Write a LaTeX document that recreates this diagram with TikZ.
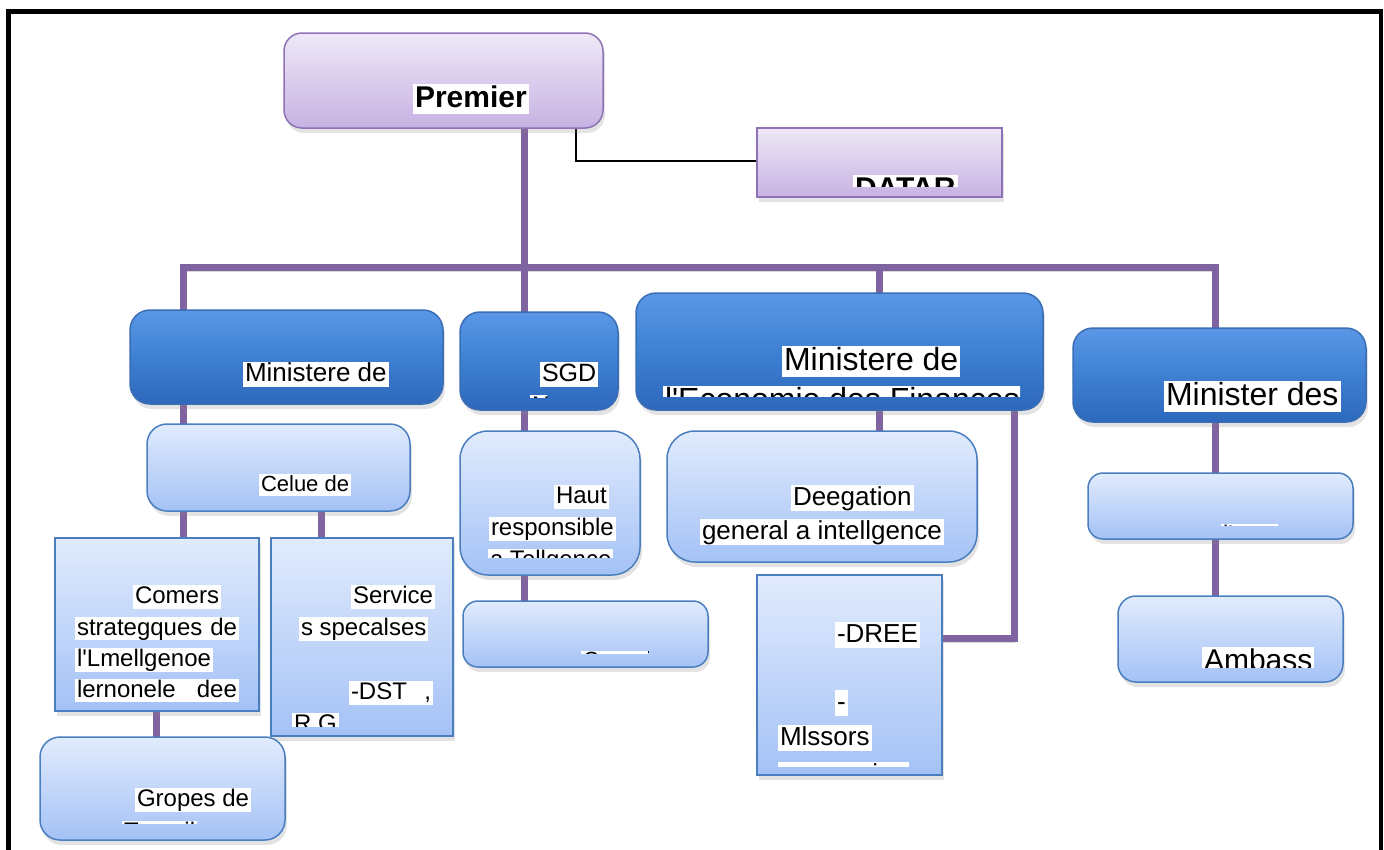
\documentclass[tikz,border=0pt]{standalone}
\usepackage{fontspec}
\setmainfont{Liberation Sans}
\usetikzlibrary{shadows,backgrounds}
\definecolor{purp}{HTML}{8064A2}
\definecolor{ptop}{HTML}{EEE8F7}
\definecolor{pbot}{HTML}{C7B2E3}
\definecolor{pborder}{HTML}{8E72B5}
\definecolor{dtop}{HTML}{5A98E6}
\definecolor{dmid}{HTML}{3E80D2}
\definecolor{dbot}{HTML}{2D68BC}
\definecolor{dborder}{HTML}{3A6DB4}
\definecolor{ltop}{HTML}{E1EBFD}
\definecolor{lbot}{HTML}{A4C2F6}
\definecolor{lborder}{HTML}{4A7EBE}
\newcommand\TL[5][]{\node[tl,font=\fontsize{#3}{#3}\selectfont#1] (#2) at (#4) {\rule[-0.2em]{0pt}{0.95em}#5};}
\newcommand\q{\textquotesingle}
\begin{document}
\begin{tikzpicture}[x=1pt,y=-1pt,
  box/.style={inner sep=0pt, outer sep=0pt, anchor=north west, line width=1.5pt,
    drop shadow={shadow xshift=2pt, shadow yshift=-5pt, opacity=0.22}},
  purpbox/.style={box, rounded corners=18pt, top color=ptop, bottom color=pbot, draw=pborder},
  purprect/.style={box, top color=ptop, bottom color=pbot, draw=pborder},
  darkbox/.style={box, rounded corners=20pt, top color=dtop, bottom color=dbot, middle color=dmid, draw=dborder},
  lightbox/.style={box, rounded corners=20pt, top color=ltop, bottom color=lbot, draw=lborder},
  lightrect/.style={box, top color=ltop, bottom color=lbot, draw=lborder},
  tl/.style={fill=white, inner xsep=2pt, inner ysep=0.5pt, outer sep=0pt, anchor=base west},
  pl/.style={line width=7pt, draw=purp, preaction={draw=black, draw opacity=0.15, transform canvas={yshift=-4pt}}},
  bl/.style={line width=2pt, draw=black}]
\useasboundingbox (0,0) rectangle (1384,849);

% boxes
\node[purpbox, minimum width=319pt, minimum height=95pt] (premier) at (284,33) {};
\node[purprect, minimum width=245pt, minimum height=69pt] (datar) at (757,128) {};
\node[darkbox, minimum width=313pt, minimum height=94pt] (min1) at (130,310) {};
\node[darkbox, minimum width=158pt, minimum height=98pt] (sgd) at (460,312) {};
\node[darkbox, minimum width=407pt, minimum height=117pt] (eco) at (636,293) {};
\node[darkbox, minimum width=293pt, minimum height=94pt] (min4) at (1073,328) {};
\node[lightbox, minimum width=263pt, minimum height=87pt] (celue) at (147,424) {};
\node[lightrect, minimum width=204pt, minimum height=173pt] (comers) at (55,538) {};
\node[lightrect, minimum width=182pt, minimum height=198pt] (service) at (271,538) {};
\node[lightbox, minimum width=245pt, minimum height=103pt] (gropes) at (40,737) {};
\node[lightbox, rounded corners=28pt, minimum width=180pt, minimum height=144pt] (haut) at (460,431) {};
\node[lightbox, rounded corners=15pt, minimum width=245pt, minimum height=66pt] (conseil) at (463,601) {};
\node[lightbox, rounded corners=28pt, minimum width=310pt, minimum height=131pt] (deleg) at (667,431) {};
\node[lightrect, minimum width=185pt, minimum height=200pt] (dree) at (757,575) {};
\node[lightbox, rounded corners=15pt, minimum width=265pt, minimum height=66pt] (nord) at (1088,473) {};
\node[lightbox, rounded corners=18pt, minimum width=225pt, minimum height=86pt] (amb) at (1118,596) {};

% texts
\TL[\bfseries]{tprem}{30}{413,107}{Premier}
\begin{scope}\clip (853,160) rectangle (970,186); \TL[\bfseries]{tdatar}{30}{853,198}{DATAR}\end{scope}
\TL{tmin1}{26}{243,381.5}{Ministere de}
\TL{tsgd}{25}{540,381.5}{SGD}
\begin{scope}\clip (530,388) rectangle (547,397); \TL{tsgdn}{24}{530,413}{N}\end{scope}
\TL{teco1}{32}{782,370}{Ministere de}
\begin{scope}\clip (660,379) rectangle (1020,396); \TL{teco2}{32}{663,410}{l\q Economie des Finances}\end{scope}
\TL{tmin4}{32}{1164,405}{Minister des}
\TL{tcelue}{22}{259,491}{Celue de}
\TL{tcom1}{24}{133,603.5}{Comers}
\TL{tcom2}{24}{75,635}{\makebox[160pt][s]{strategques de}}
\TL{tcom3}{24}{75,666.5}{l\q Lmellgenoe}
\TL{tcom4}{24}{75,697}{\makebox[160pt][s]{lernonele dee}}
\TL{tser1}{24}{351,603.5}{Service}
\TL{tser2}{24}{299,635.5}{s specalses}
\TL{tser3}{24}{349,699.5}{\makebox[80pt][s]{-DST ,}}
\begin{scope}\clip (290,700) rectangle (340,726); \TL{tser4}{24}{292,731}{R.G}\end{scope}
\TL{tgr1}{24}{135,806.5}{Gropes de}
\begin{scope}\clip (120,816) rectangle (206,823); \TL{tgr2}{24}{122,839}{Travail}\end{scope}
\TL{th1}{24}{554,503.7}{Haut}
\TL{th2}{24}{489,535.7}{responsible}
\begin{scope}\clip (486,543) rectangle (615,557); \TL{th3}{24}{488,567.7}{a Tellgence}\end{scope}
\begin{scope}\clip (581,646) rectangle (648,653); \TL{tcons}{22}{581,667.5}{Conseil}\end{scope}
\TL{td1}{26}{791,505.3}{Deegation}
\TL{td2}{26}{700,539.3}{general a intellgence}
\TL{tdr1}{26}{835,642}{-DREE}
\TL{tdr2}{26}{835,710}{-}
\TL{tdr3}{26}{778,745}{Mlssors}
\begin{scope}\clip (778,755) rectangle (909,766); \TL{tdr4}{26}{778,782}{economiques}\end{scope}
\begin{scope}\clip (1221,519) rectangle (1278,525); \TL{tnord}{24}{1221,542.5}{l\q etranger}\end{scope}
\begin{scope}\clip (1200,640) rectangle (1320,667); \TL{tamb}{30}{1202,670}{Ambass}\end{scope}

% connectors
\begin{pgfonlayer}{background}
\coordinate (j1) at (183,267);
\coordinate (j2) at (524,267);
\coordinate (j3) at (879,267);
\coordinate (j4) at (1215,267);
\coordinate (c2) at (321,0);
\coordinate (c3) at (156,0);
\coordinate (k) at (1014,638);
\coordinate (pd) at (576,161);
\draw[pl] (j2 |- premier.south) -- (j2);
\draw[pl] (j1 |- min1.north) -- (j1) -- (j4) -- (j4 |- min4.north);
\draw[pl] (j2) -- (j2 |- sgd.north);
\draw[pl] (j3) -- (j3 |- eco.north);
\draw[pl] (j1 |- min1.south) -- (j1 |- celue.north);
\draw[pl] (j1 |- celue.south) -- (j1 |- comers.north);
\draw[pl] (c2 |- celue.south) -- (c2 |- service.north);
\draw[pl] (c3 |- comers.south) -- (c3 |- gropes.north);
\draw[pl] (j2 |- sgd.south) -- (j2 |- haut.north);
\draw[pl] (j2 |- haut.south) -- (j2 |- conseil.north);
\draw[pl] (j3 |- eco.south) -- (j3 |- deleg.north);
\draw[pl] (k |- eco.south) -- (k) -- (k -| dree.east);
\draw[pl] (j4 |- min4.south) -- (j4 |- nord.north);
\draw[pl] (j4 |- nord.south) -- (j4 |- amb.north);
\draw[bl] (pd |- premier.south) -- (pd) -- (pd -| datar.west);
\end{pgfonlayer}

% outer frame
\draw[line width=4.5pt, line join=miter] (8.5,870) -- (8.5,11.5) -- (1381,11.5) -- (1381,870);
\end{tikzpicture}
\end{document}
